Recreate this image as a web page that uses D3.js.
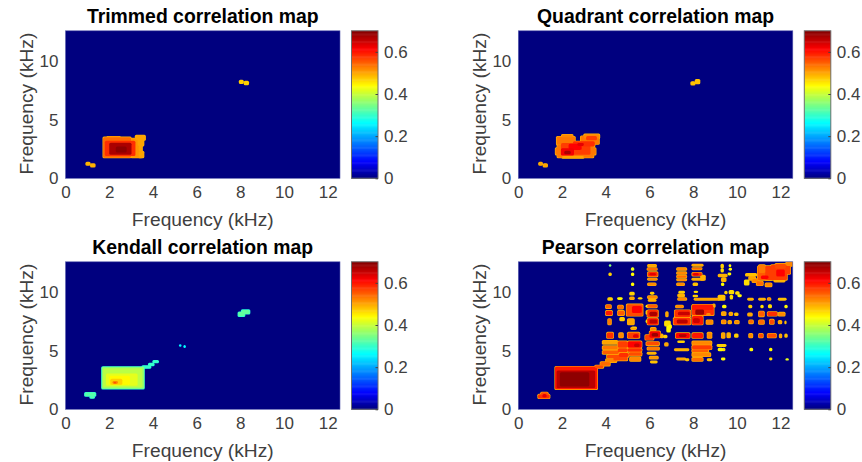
<!DOCTYPE html>
<html>
<head>
<meta charset="utf-8">
<script src="https://cdn.jsdelivr.net/npm/d3@7"></script>
<style>
  html, body { margin: 0; padding: 0; background: #fff; }
  svg { display: block; }
  text { font-family: "Liberation Sans", Arial, sans-serif; }
</style>
</head>
<body>
<svg id="chart" width="862" height="462"></svg>
<script>
const titles = ["Trimmed correlation map", "Quadrant correlation map", "Kendall correlation map", "Pearson correlation map"];
const axisLabel = "Frequency (kHz)";
const xTicks = [0, 2, 4, 6, 8, 10, 12];
const yTicks = [0, 5, 10];
const colorTicks = [0, 0.2, 0.4, 0.6];
const freqMax = 12.56;
const corrMax = 0.7;

// jet colormap stops
const jetStops = [0, 0.11, 0.375, 0.625, 0.875, 1];
const jetColors = ["#00007f", "#0000ff", "#00ffff", "#ffff00", "#ff0000", "#7f0000"];

// correlation at the rim of the significant areas, one per panel
const rimValues = [0.49, 0.49, 0.29, 0.49];

// every cell: f1 from, f1 to, f2 from, f2 to (kHz), correlation. later ones paint over earlier ones
const trimmedCells = [
  [0.94,1.12,1.12,1.36,.49], [1.15,1.35,0.98,1.22,.49],
  [7.96,8.13,8.08,8.35,.47], [8.18,8.37,7.98,8.25,.47],
  [1.72,3.0,1.75,3.5,.54], [1.9,2.5,3.45,3.56,.53], [3.0,3.5,1.75,3.4,.51], [3.2,3.65,3.25,3.66,.5], [3.3,3.58,2.75,3.3,.5], [3.35,3.5,2.3,2.8,.5], [3.35,3.58,1.75,2.3,.5],
  [1.8,3.2,1.9,3.2,.58], [2.0,3.02,2.0,3.02,.67], [2.3,2.8,2.2,2.7,.69]
];

const quadrantCells = [
  [0.94,1.1,1.12,1.36,.5], [1.14,1.33,0.98,1.24,.5],
  [7.9,8.08,7.95,8.22,.48], [8.1,8.3,8.05,8.4,.48],
  [1.78,3.45,1.75,2.85,.53], [1.7,3.55,2.0,2.6,.53], [1.75,2.6,2.85,3.55,.53], [1.98,2.5,3.5,3.72,.52], [2.85,3.7,2.9,3.6,.53], [3.0,3.72,3.4,3.76,.52], [2.0,3.0,1.72,1.9,.5],
  [1.95,3.3,2.0,3.0,.57], [2.5,3.5,2.7,3.15,.58], [3.1,3.6,3.25,3.6,.57], [2.3,2.9,2.4,2.95,.61], [1.95,2.55,1.95,2.55,.62], [2.1,2.4,2.05,2.35,.67], [2.7,3.0,2.75,3.0,.63]
];

const kendallCells = [
  [0.88,1.38,1.12,1.42,.32], [1.12,1.32,0.95,1.12,.32],
  [7.9,8.2,7.92,8.28,.33], [8.05,8.43,8.12,8.46,.33],
  [5.22,5.28,5.37,5.48,.26], [5.42,5.48,5.27,5.43,.26],
  [3.5,3.9,3.5,3.7,.3], [3.8,4.05,3.72,3.92,.3], [4.0,4.25,3.97,4.15,.3],
  [1.66,3.6,1.74,3.62,.36], [1.72,3.52,1.85,3.5,.39], [1.85,3.3,2.0,3.05,.42], [2.0,2.95,2.1,2.85,.44], [2.05,2.6,2.1,2.6,.47], [2.15,2.4,2.15,2.4,.52], [2.2,2.32,2.22,2.32,.56]
];

const pearsonCells = [
  // low band
  [0.9,1.44,0.92,1.28,.58], [1.03,1.36,1.2,1.45,.56], [1.1,1.3,1.0,1.3,.63],
  [1.68,3.62,1.7,3.64,.6], [1.75,3.52,1.82,3.3,.66], [1.9,3.25,1.95,3.15,.69],
  [3.5,3.9,3.5,3.75,.56], [3.75,4.2,3.7,4.05,.54], [4.0,4.5,4.0,4.3,.52],
  // block f1 4-6
  [3.85,4.55,5.55,5.85,.5], [3.85,4.55,5.1,5.4,.53], [3.85,4.6,4.7,5.0,.55], [4.05,4.65,4.35,4.65,.56], [4.35,5.0,4.15,4.5,.56],
  [4.55,5.0,5.25,5.8,.57], [4.55,5.0,4.85,5.2,.57], [4.6,5.05,4.45,4.8,.58],
  [5.0,5.65,5.25,5.8,.61], [5.0,5.65,4.9,5.2,.58], [5.05,5.65,4.55,4.85,.56], [5.1,5.6,4.1,4.45,.52], [5.3,5.55,5.3,5.6,.65],
  // f1 around 6.2, low strips
  [5.85,6.45,5.45,5.75,.56], [5.9,6.45,5.05,5.3,.53], [5.9,6.3,4.7,4.85,.49], [6.0,6.4,4.3,4.5,.51], [6.05,6.35,3.95,4.1,.48],
  // row 6.3
  [4.05,4.35,6.05,6.55,.58], [4.6,4.8,6.1,6.5,.52], [5.0,5.55,6.05,6.55,.57], [5.25,5.5,6.1,6.4,.63],
  [5.8,6.2,5.9,6.35,.57], [6.0,6.5,6.1,6.65,.62], [6.1,6.4,6.2,6.5,.68], [6.5,6.62,6.1,6.4,.49], [6.65,6.8,6.1,6.3,.47],
  [7.2,7.85,6.05,6.5,.61], [7.35,7.7,6.15,6.4,.67], [7.95,8.45,6.05,6.5,.6], [8.65,8.85,6.05,6.55,.52], [9.3,9.45,6.05,6.5,.5], [9.55,9.7,6.1,6.5,.49], [9.9,10.05,6.15,6.4,.47],
  [10.55,10.72,6.1,6.45,.52], [11.0,11.2,6.1,6.45,.56], [11.4,11.8,6.1,6.45,.56], [11.95,12.05,6.1,6.4,.5], [12.2,12.3,6.15,6.4,.48],
  // f1 around 4.2 - 5.6, upper rows
  [4.15,4.25,11.4,11.6,.47], [4.17,4.23,12.2,12.3,.36], [4.1,4.3,9.3,9.5,.47], [4.0,4.25,8.6,8.9,.55], [4.0,4.3,8.0,8.4,.6], [4.1,4.25,7.2,7.7,.53],
  [4.55,4.75,9.35,9.5,.44], [4.55,4.8,8.55,8.85,.54], [4.55,4.85,8.0,8.4,.55], [4.65,4.85,7.55,7.8,.47],
  [5.18,5.28,11.85,12.05,.42], [5.18,5.28,11.4,11.6,.44], [5.18,5.28,10.55,10.75,.44], [5.1,5.3,9.75,9.95,.47], [5.1,5.3,9.35,9.55,.5], [5.5,5.65,9.4,9.5,.47],
  [4.95,5.7,7.95,8.95,.56], [5.2,5.65,8.2,8.8,.61], [5.0,5.3,7.2,7.7,.5], [5.2,5.4,6.9,7.0,.47], [5.15,5.4,6.8,6.95,.5],
  [5.85,5.95,8.7,8.85,.44], [5.85,6.0,8.1,8.4,.48], [5.85,6.0,7.4,7.6,.46],
  // f1 around 6.3
  [5.92,6.32,12.15,12.32,.5], [5.9,6.35,11.85,12.05,.54], [5.92,6.38,11.3,11.7,.58], [6.0,6.3,11.4,11.6,.63], [5.92,6.35,11.0,11.15,.52], [5.92,6.3,10.55,10.75,.52],
  [6.05,6.2,9.8,9.95,.47], [5.92,6.35,9.45,9.65,.52], [5.95,6.3,9.2,9.35,.49],
  [5.9,6.35,8.65,8.9,.55], [5.9,6.4,7.85,8.45,.58], [6.0,6.35,7.95,8.3,.67], [5.9,6.4,7.2,7.75,.6], [6.0,6.35,7.3,7.65,.66], [6.05,6.3,6.7,6.95,.52],
  // f1 around 6.8
  [6.75,6.85,7.9,8.3,.5], [6.7,6.95,7.1,7.5,.46], [6.8,6.95,6.6,7.1,.44], [6.85,7.0,6.9,7.2,.44], [6.7,6.85,5.4,5.65,.5],
  // f1 around 7.5
  [7.25,7.7,11.85,12.05,.52], [7.25,7.7,11.5,11.7,.52], [7.25,7.7,11.2,11.4,.54], [7.25,7.7,10.95,11.1,.52], [7.25,7.6,10.55,10.75,.52],
  [7.35,7.6,9.9,10.05,.47], [7.3,7.6,9.6,9.8,.49], [7.3,7.7,9.3,9.5,.52], [7.2,7.55,8.65,8.85,.52],
  [7.15,7.88,7.85,8.45,.58], [7.3,7.85,8.0,8.3,.65], [7.1,7.88,7.2,7.8,.58], [7.25,7.75,7.3,7.65,.66],
  [7.3,7.6,5.7,5.8,.47], [7.15,7.8,5.0,5.15,.49], [7.25,7.65,4.2,4.35,.5], [7.65,7.8,4.15,4.3,.48],
  // f1 around 8.2
  [7.95,8.45,12.2,12.35,.5], [7.95,8.4,11.9,12.05,.54], [7.95,8.4,11.35,11.65,.58], [8.0,8.25,11.4,11.6,.63], [8.35,8.55,11.0,11.4,.49], [7.95,8.5,11.0,11.15,.49], [8.0,8.2,10.55,10.75,.48],
  [8.05,8.2,9.95,10.05,.46], [8.0,8.2,9.6,9.7,.47], [8.05,9.2,9.3,9.45,.5],
  [7.95,8.95,8.0,8.9,.58], [8.9,9.0,8.7,8.95,.5], [7.95,8.9,8.45,8.9,.6], [8.1,8.5,8.05,8.5,.68], [7.95,8.45,7.2,7.95,.6], [8.0,8.3,7.35,7.75,.65],
  [8.6,8.9,7.25,7.6,.52], [8.6,8.8,8.0,8.2,.52],
  [7.95,8.85,5.5,5.8,.52], [7.95,8.85,5.1,5.45,.57], [7.95,8.7,4.85,5.1,.55], [7.95,8.8,4.5,4.8,.52], [7.95,8.45,4.1,4.4,.54], [8.65,8.85,4.15,4.3,.48],
  // f1 around 9.4 - 10
  [9.28,9.38,12.05,12.35,.47], [9.28,9.38,11.7,11.95,.46], [9.15,9.55,11.3,11.5,.49], [9.3,9.5,10.9,11.2,.49], [9.3,9.4,10.55,10.75,.44],
  [9.45,9.55,9.85,10.05,.47], [9.15,9.45,9.3,9.7,.48], [9.35,9.5,8.65,8.85,.44], [9.3,9.5,8.0,8.3,.5], [9.3,9.5,7.3,7.6,.52],
  [9.1,9.5,5.35,5.5,.47], [9.35,9.45,5.0,5.2,.46], [9.3,9.45,4.2,4.35,.44], [9.15,9.35,5.0,5.2,.44],
  [9.65,9.72,12.15,12.3,.44], [9.65,9.75,11.85,12.0,.44], [9.6,9.72,11.45,11.6,.44], [9.65,9.85,9.85,10.1,.46], [9.7,9.8,9.4,9.7,.46], [9.65,9.8,8.0,8.25,.5], [9.6,9.75,7.3,7.55,.5],
  [9.95,10.1,9.8,10.0,.46], [9.9,10.05,8.0,8.2,.48], [9.9,10.1,7.3,7.55,.52], [10.05,10.2,9.6,9.75,.44],
  // f1 above 10.5
  [10.5,10.75,9.3,9.45,.49], [10.55,10.68,8.65,8.85,.47], [10.5,10.7,7.95,8.2,.5], [10.55,10.75,7.3,7.6,.54], [10.6,10.72,5.0,5.2,.44],
  [11.0,11.3,9.3,9.45,.49], [11.1,11.2,8.65,8.85,.46], [11.0,11.25,7.9,8.35,.55], [11.0,11.25,7.25,7.6,.54],
  [11.4,11.55,9.3,9.5,.52], [11.45,11.58,8.65,8.9,.46], [11.4,11.85,7.95,8.3,.58], [11.5,11.7,7.25,7.65,.56], [11.5,11.6,5.0,5.2,.44], [11.5,11.6,4.2,4.35,.46],
  [11.9,12.25,9.3,9.45,.48], [12.2,12.3,8.65,8.85,.44], [11.9,12.2,7.95,8.25,.52], [11.9,12.05,7.3,7.55,.5], [12.2,12.25,7.3,7.5,.48], [12.25,12.35,4.2,4.3,.42],
  // top right block
  [10.4,10.9,11.35,11.55,.48], [10.55,10.85,11.0,11.3,.5], [10.35,10.55,10.6,11.0,.46], [10.7,11.0,10.8,11.1,.52], [10.9,11.2,10.55,10.9,.54], [11.3,11.6,10.45,10.75,.52], [11.7,12.2,10.85,11.0,.49],
  [10.95,11.6,11.0,12.2,.55], [11.3,12.3,11.0,12.2,.57], [11.55,12.45,11.5,12.3,.57], [11.0,11.3,11.6,12.3,.53], [11.1,11.45,11.1,11.4,.61], [11.8,12.2,11.3,11.9,.61], [12.25,12.56,12.2,12.56,.52], [11.75,12.25,12.0,12.4,.56]
];

const panelCells = [trimmedCells, quadrantCells, kendallCells, pearsonCells];

// positions of the four subplots
const plotW = 274.5, plotH = 147.5;
const panelX = [65.5, 518.3, 65.5, 518.3];
const panelY = [30.8, 30.8, 261.8, 261.8];
const rimPad = 0.6;

const color = d3.scaleLinear()
  .domain(jetStops.map(d => d * corrMax))
  .range(jetColors)
  .clamp(true);

const svg = d3.select("#chart");
const defs = svg.append("defs");
defs.append("filter")
  .attr("id", "soft")
  .attr("x", "-5%").attr("y", "-5%").attr("width", "110%").attr("height", "110%")
  .append("feGaussianBlur")
  .attr("stdDeviation", 0.7);
panelX.forEach((d, i) => {
  defs.append("clipPath").attr("id", "clip" + i)
    .append("rect").attr("width", plotW).attr("height", plotH);
});

const x = d3.scaleLinear().domain([0, freqMax]).range([0, plotW]);
const y = d3.scaleLinear().domain([0, freqMax]).range([plotH, 0]);
const cbarScale = d3.scaleLinear().domain([0, corrMax]).range([plotH, 0]);
const cbarSteps = d3.range(0, 128).map(d => d / 128 * corrMax);

function styleAxis(g) {
  g.select(".domain").remove();
  g.selectAll("text").attr("fill", "#404040").style("font-size", "17px");
}

titles.forEach((title, i) => {
  const g = svg.append("g").attr("transform", `translate(${panelX[i]},${panelY[i]})`);

  // heat map
  g.append("rect")
    .attr("width", plotW).attr("height", plotH)
    .attr("fill", color(0));
  const cells = g.append("g")
    .attr("clip-path", `url(#clip${i})`)
    .append("g")
    .attr("filter", "url(#soft)");

  // rim first so the cores sit on orange (cyan for Kendall)
  cells.append("g")
    .selectAll("rect")
    .data(panelCells[i])
    .enter()
    .append("rect")
    .attr("x", d => x(d[0]) - rimPad)
    .attr("width", d => x(d[1]) - x(d[0]) + 2 * rimPad)
    .attr("y", d => y(d[3]) - rimPad)
    .attr("height", d => y(d[2]) - y(d[3]) + 2 * rimPad)
    .attr("rx", 1.5)
    .attr("fill", d => color(Math.min(d[4], rimValues[i])));
  cells.append("g")
    .selectAll("rect")
    .data(panelCells[i])
    .enter()
    .append("rect")
    .attr("x", d => x(d[0]))
    .attr("width", d => x(d[1]) - x(d[0]))
    .attr("y", d => y(d[3]))
    .attr("height", d => y(d[2]) - y(d[3]))
    .attr("rx", 1.5)
    .attr("fill", d => color(d[4]));

  // faint box round the map
  g.append("rect")
    .attr("width", plotW).attr("height", plotH)
    .attr("fill", "none").attr("stroke", "#5a5fb0").attr("stroke-width", 0.6);

  g.append("g")
    .attr("transform", `translate(0,${plotH})`)
    .call(d3.axisBottom(x).tickValues(xTicks).tickSize(0).tickPadding(8))
    .call(styleAxis);
  g.append("g")
    .call(d3.axisLeft(y).tickValues(yTicks).tickSize(0).tickPadding(7))
    .call(styleAxis);

  g.append("text")
    .attr("x", plotW / 2).attr("y", -8)
    .attr("text-anchor", "middle")
    .attr("font-weight", "bold")
    .style("font-size", "19.4px")
    .attr("fill", "#000")
    .text(title);
  g.append("text")
    .attr("x", plotW / 2).attr("y", plotH + 48)
    .attr("text-anchor", "middle")
    .style("font-size", "19.2px")
    .attr("fill", "#404040")
    .text(axisLabel);
  g.append("text")
    .attr("transform", `translate(-32.5,${plotH / 2 - 1}) rotate(-90)`)
    .attr("text-anchor", "middle")
    .style("font-size", "19.2px")
    .attr("fill", "#404040")
    .text(axisLabel);

  // colorbar
  const cbar = g.append("g").attr("transform", `translate(${plotW + 11.5},0)`);
  const cbarW = 26.5;
  cbar.selectAll("rect")
    .data(cbarSteps)
    .enter()
    .append("rect")
    .attr("x", 0)
    .attr("width", cbarW)
    .attr("y", d => cbarScale(d + corrMax / 128))
    .attr("height", plotH / 128 + 0.5)
    .attr("fill", d => color(d));
  cbar.append("rect")
    .attr("width", cbarW).attr("height", plotH)
    .attr("fill", "none").attr("stroke", "#6e6e6e").attr("stroke-width", 1);
  cbar.append("g")
    .attr("transform", `translate(${cbarW},0)`)
    .call(d3.axisRight(cbarScale).tickValues(colorTicks).tickFormat(d3.format("~g")).tickSizeInner(-2.5).tickSizeOuter(0).tickPadding(6))
    .call(styleAxis)
    .selectAll("line").attr("stroke", "#444");
});
</script>
</body>
</html>
